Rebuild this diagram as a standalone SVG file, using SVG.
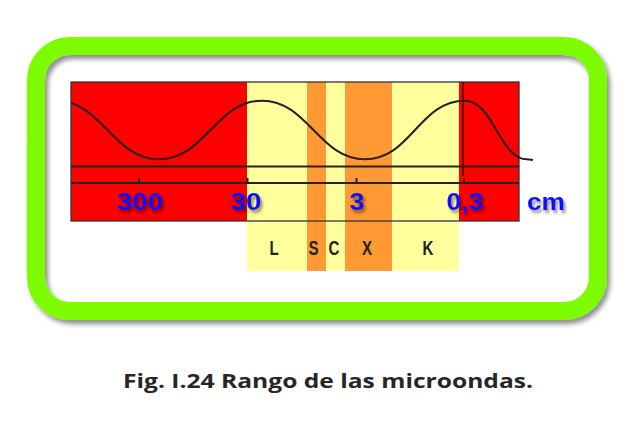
<svg xmlns="http://www.w3.org/2000/svg" width="640" height="437" viewBox="0 0 640 437">
  <defs>
    <filter id="frameShadow" x="-10%" y="-10%" width="120%" height="130%">
      <feDropShadow dx="3" dy="4" stdDeviation="2.5" flood-color="#000" flood-opacity="0.45"/>
    </filter>
    <filter id="txtShadow" x="-30%" y="-30%" width="160%" height="180%">
      <feDropShadow dx="2" dy="3" stdDeviation="1.8" flood-color="#000" flood-opacity="0.45"/>
    </filter>
    <clipPath id="waveClip">
      <rect x="71" y="60" width="470" height="140"/>
    </clipPath>
    <style>
      .num { font-family: "Liberation Sans", Arial, sans-serif; font-weight: bold; font-size: 23px; fill: #1010ff; text-anchor: middle; }
      .band { font-family: "Liberation Sans", Arial, sans-serif; font-weight: bold; font-size: 21px; fill: #222; text-anchor: middle; }
      .axis { stroke: #222; stroke-width: 2; fill: none; }
      .thin { stroke: #333; stroke-width: 1.3; fill: none; }
      .caption { font-family: "Open Sans", "Noto Sans", sans-serif; font-weight: bold; font-size: 19px; fill: #262626; }
    </style>
  </defs>

  <rect width="640" height="437" fill="#ffffff"/>

  <!-- frame -->
  <g id="frame">
    <rect x="36" y="46" width="562" height="265" rx="34" ry="34" fill="none" stroke="#7dfc00" stroke-width="18" filter="url(#frameShadow)"/>
  </g>

  <!-- spectrum bands -->
  <g id="bands">
    <rect x="71" y="82" width="176" height="139" fill="#ff0000"/>
    <rect x="247" y="82" width="212" height="189" fill="#ffff9e"/>
    <rect x="307" y="82" width="19" height="189" fill="#ff9933"/>
    <rect x="345" y="82" width="47" height="189" fill="#ff9933"/>
    <rect x="459" y="82" width="60" height="139" fill="#ff0000"/>
  </g>

  <!-- chart lines -->
  <g id="connectors">
    <rect x="71" y="82" width="448" height="139" class="thin"/>
    <line x1="71" y1="166.5" x2="519" y2="166.5" class="axis"/>
    <line x1="71" y1="183" x2="519" y2="183" class="axis"/>
    <line x1="139" y1="178" x2="139" y2="183" class="axis"/>
    <line x1="247.5" y1="178" x2="247.5" y2="183" class="axis"/>
    <line x1="356.5" y1="178" x2="356.5" y2="183" class="axis"/>
    <line x1="464" y1="178" x2="464" y2="183" class="axis"/>
    <line x1="463" y1="82" x2="463" y2="176" stroke="#6a0000" stroke-width="2"/>
    <path class="axis" clip-path="url(#waveClip)" d="M56,100.7 C102,100.7 113,159.3 159,159.3 S216,100.7 262,100.7 S319,159.3 365,159.3 S419,100.7 465,100.7 C493,100.7 500,159.3 527,159.3 L533,160"/>
  </g>

  <!-- scale numbers -->
  <g id="labels" filter="url(#txtShadow)">
    <text class="num" x="140" y="210" textLength="46" lengthAdjust="spacingAndGlyphs">300</text>
    <text class="num" x="246" y="210" textLength="31" lengthAdjust="spacingAndGlyphs">30</text>
    <text class="num" x="357" y="210" textLength="15" lengthAdjust="spacingAndGlyphs">3</text>
    <text class="num" x="465" y="210" textLength="37" lengthAdjust="spacingAndGlyphs">0,3</text>
    <text class="num" x="546" y="210" textLength="38" lengthAdjust="spacingAndGlyphs">cm</text>
  </g>

  <!-- band letters -->
  <g id="bandLetters">
    <text class="band" transform="translate(274,255) scale(0.72,1)">L</text>
    <text class="band" transform="translate(313.5,255) scale(0.72,1)">S</text>
    <text class="band" transform="translate(334,255) scale(0.72,1)">C</text>
    <text class="band" transform="translate(367,255) scale(0.72,1)">X</text>
    <text class="band" transform="translate(428,255) scale(0.72,1)">K</text>
  </g>

  <g id="caption">
    <text class="caption" x="123" y="388" textLength="410" lengthAdjust="spacingAndGlyphs">Fig. I.24 Rango de las microondas.</text>
  </g>
</svg>
